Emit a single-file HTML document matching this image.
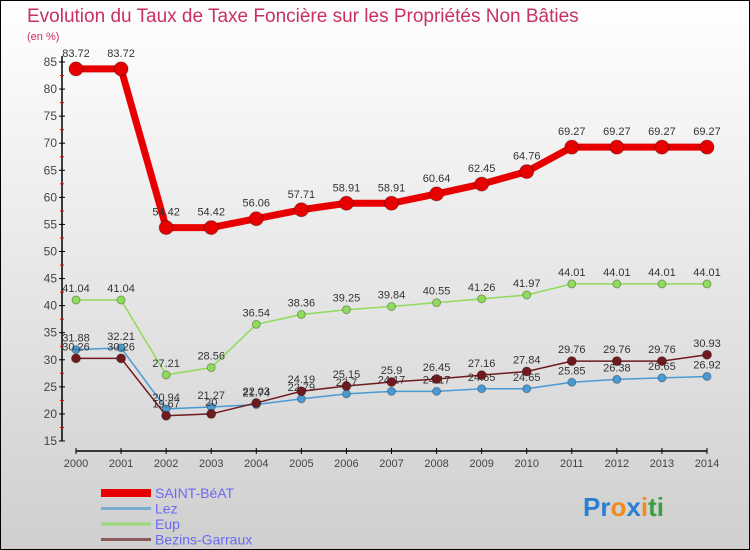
<!DOCTYPE html>
<html><head><meta charset="utf-8"><style>
body{margin:0}
#wrap{width:750px;height:550px;position:relative;overflow:hidden;box-sizing:border-box;border:1px solid #000;background:linear-gradient(#ffffff,#cfcfcf);font-family:"Liberation Sans",sans-serif}
text{font-family:"Liberation Sans",sans-serif}
</style></head><body>
<div id="wrap">
<svg id="chart" width="750" height="550">
<text x="26" y="21" font-size="19" fill="#c8305e">Evolution du Taux de Taxe Foncière sur les Propriétés Non Bâties</text>
<text x="26" y="39" font-size="11" fill="#c8305e">(en %)</text>
<g id="axes"></g><g id="series"></g><g id="legend"></g>
<text x="582" y="515" font-size="26" font-weight="bold"><tspan fill="#2a7fd0">Pr</tspan><tspan fill="#f08a1c">o</tspan><tspan fill="#2a7fd0">x</tspan><tspan fill="#f08a1c">i</tspan><tspan fill="#3aa040">ti</tspan></text>
</svg></div>
<script>
const years=[2000,2001,2002,2003,2004,2005,2006,2007,2008,2009,2010,2011,2012,2013,2014];
const yTicks=[15,20,25,30,35,40,45,50,55,60,65,70,75,80,85];
const saintBeat=[83.72,83.72,54.42,54.42,56.06,57.71,58.91,58.91,60.64,62.45,64.76,69.27,69.27,69.27,69.27];
const lez=[31.88,32.21,20.94,21.27,21.74,22.79,23.7,24.17,24.17,24.65,24.65,25.85,26.38,26.65,26.92];
const eup=[41.04,41.04,27.21,28.56,36.54,38.36,39.25,39.84,40.55,41.26,41.97,44.01,44.01,44.01,44.01];
const bezins=[30.26,30.26,19.67,20,22.03,24.19,25.15,25.9,26.45,27.16,27.84,29.76,29.76,29.76,30.93];
const seriesNames=["SAINT-BéAT","Lez","Eup","Bezins-Garraux"];
const NS="http://www.w3.org/2000/svg";
const X=i=>75+i*(706-75)/(years.length-1);
const Y=v=>440-(v-15)*(440-61)/70;
function mk(t,a,p){const e=document.createElementNS(NS,t);for(const k in a)e.setAttribute(k,a[k]);p.appendChild(e);return e;}
const ax=document.getElementById('axes');
let l=mk('line',{x1:61,y1:55,x2:61,y2:440,stroke:'#000','stroke-width':1.5},ax);


yTicks.forEach(v=>{
 mk('line',{x1:58,y1:Y(v),x2:64,y2:Y(v),stroke:'#000'},ax);
 if(v<85)mk('line',{x1:59,y1:Y(v+2.5),x2:63,y2:Y(v+2.5),stroke:'#e00'},ax);
 const t=mk('text',{x:56,y:Y(v)+4,'text-anchor':'end','font-size':12,fill:'#444'},ax);t.textContent=v;
 
 
});
l=mk('line',{x1:X(0),y1:450,x2:X(14),y2:450,stroke:'#000','stroke-width':1.5},ax);


years.forEach((y,i)=>{
 mk('line',{x1:X(i),y1:447,x2:X(i),y2:453,stroke:'#000'},ax);
 const t=mk('text',{x:X(i),y:466,'text-anchor':'middle','font-size':11,fill:'#444'},ax);t.textContent=y;
 
 
});
const sg=document.getElementById('series');
function draw(data,color,w,r,name,dy){
 const g=mk('g',{},sg);
 
 
 const p=mk('polyline',{points:data.map((v,i)=>X(i)+','+Y(v)).join(' '),fill:'none',stroke:color,'stroke-width':w,'stroke-linejoin':'round'},g);
 
 
 data.forEach((v,i)=>{
  const c=mk('circle',{cx:X(i),cy:Y(v),r:r,fill:color,stroke:'rgba(0,0,0,0.3)'},g);
  
  
  const t=mk('text',{x:X(i),y:Y(v)-dy,'text-anchor':'middle','font-size':11,fill:'#333'},g);t.textContent=v;
  
  
 });
}
draw(eup,'#8fdb5a',1.5,4,'eup',8);
draw(lez,'#4a9ad4',1.5,4,'lez',8);
draw(bezins,'#6e1a1e',1.5,4.5,'bezins-garraux',8);
draw(saintBeat,'#e80000',7,7,'saint-beat',12);
const lg=document.getElementById('legend');
const cols=['#e80000','#7aaed0','#9ad878','#8a5a5a'],ws=[8,3,3,3];
seriesNames.forEach((n,i)=>{
 const y=492+i*15.5;
 const g=mk('g',{},lg);
 
 
 mk('line',{x1:100,y1:y,x2:150,y2:y,stroke:cols[i],'stroke-width':ws[i]},g);
 const t=mk('text',{x:154,y:y+5,'font-size':14,fill:'#6a6af0'},g);t.textContent=n;
 
 
});
</script>
</body></html>
